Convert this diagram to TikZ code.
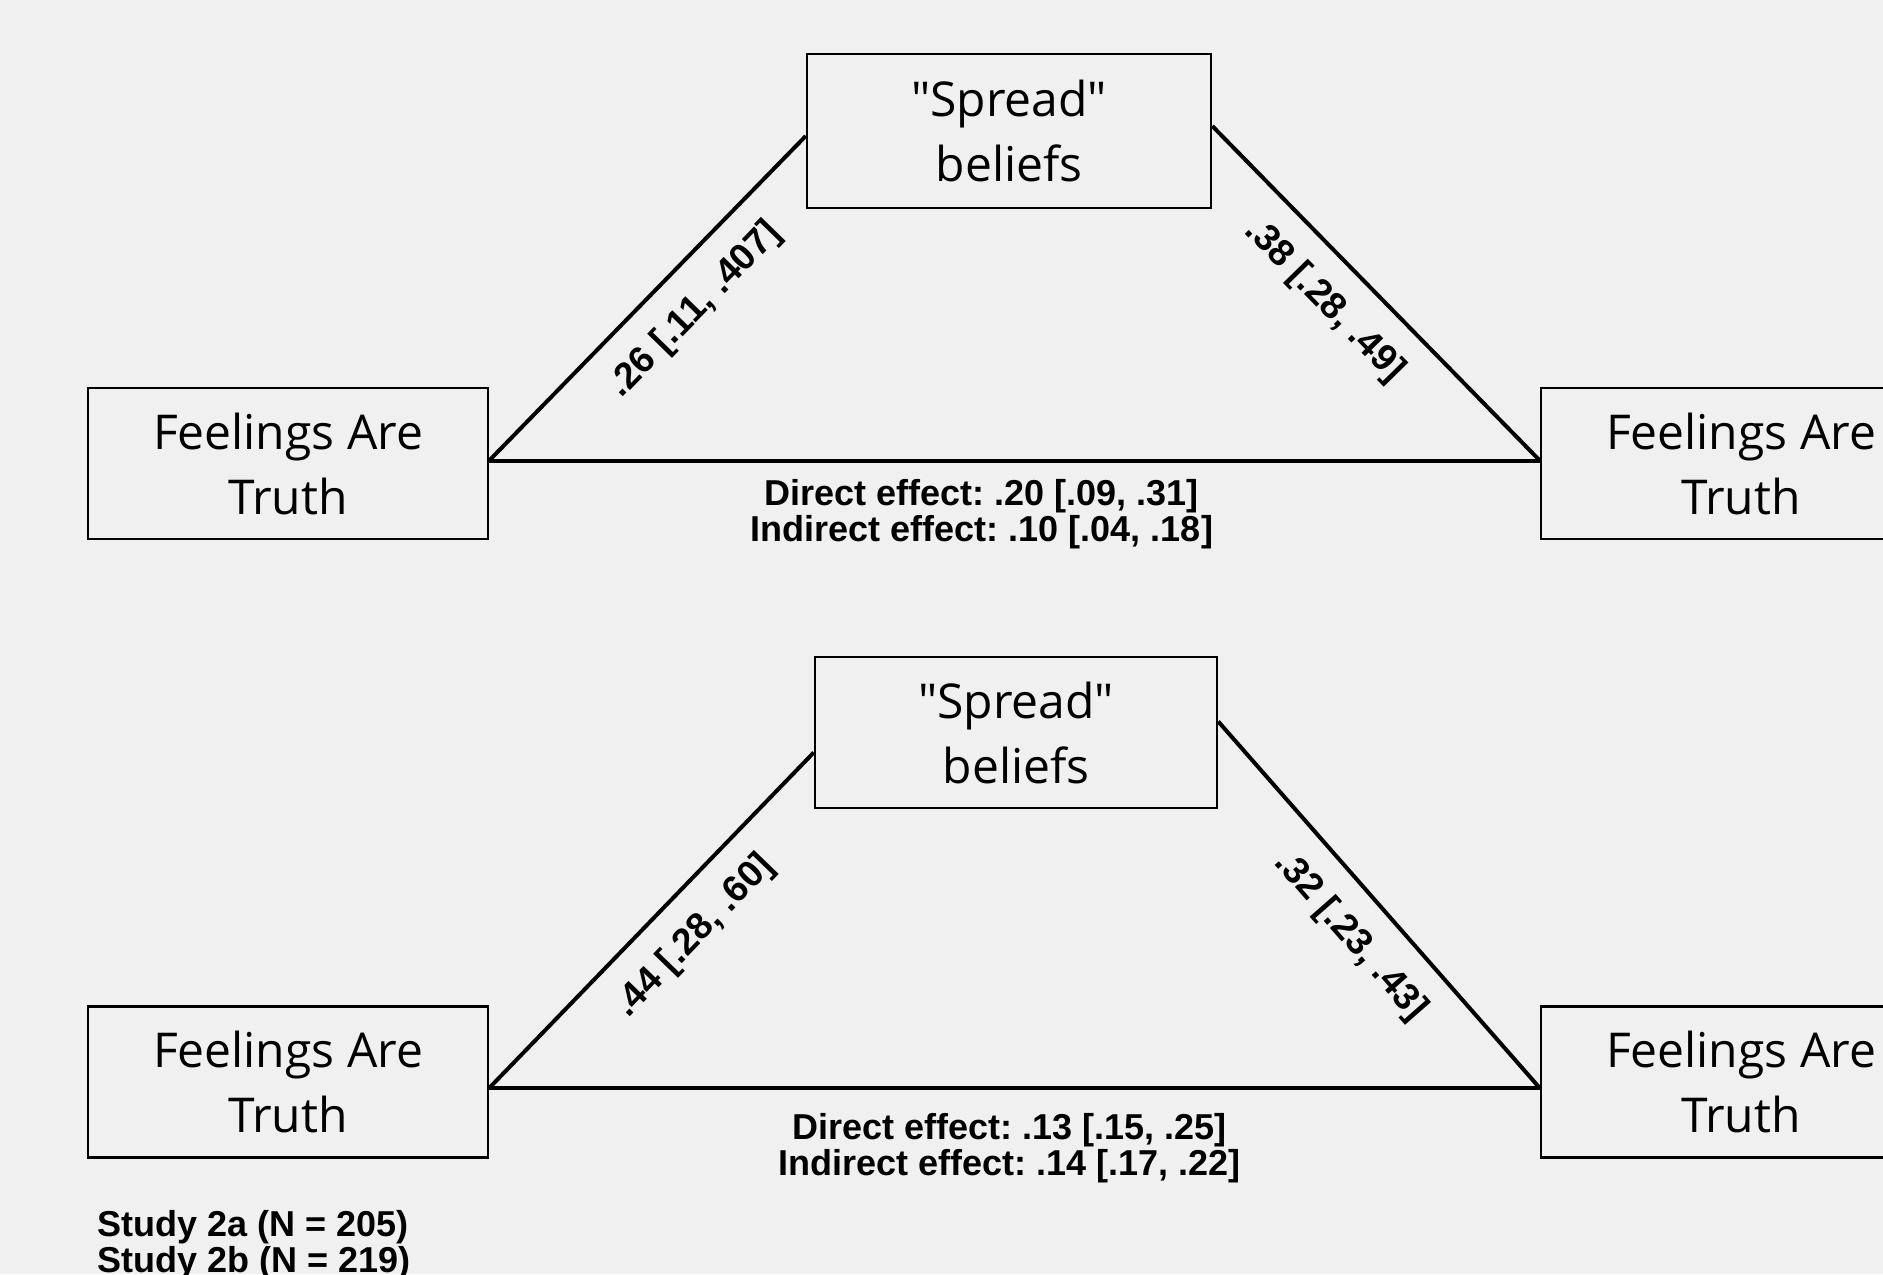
\documentclass[tikz,border=0pt]{standalone}
\usepackage{fontspec}
\setmainfont{Liberation Sans}
\newfontfamily\boxfont{Open Sans}[Ligatures=TeXOff]
\newfontfamily\labfont{Liberation Sans}[Ligatures=TeXOff]
\usetikzlibrary{calc}
\definecolor{bg}{HTML}{F0F0F0}
\frenchspacing
\begin{document}
\begin{tikzpicture}[x=0.5pt,y=-0.5pt,
  box/.style={draw, line width=1.25pt, fill=bg, align=center, inner sep=0,
    font=\boxfont\fontsize{24}{32.5}\selectfont},
  lab/.style={font=\labfont\bfseries\fontsize{18}{18}\selectfont, inner sep=0},
  slab/.style={font=\labfont\bfseries\fontsize{18.6}{19}\selectfont, inner sep=0, sloped},
  conn/.style={line width=2pt}]
\fill[bg] (0,0) rectangle (1883,1274);
\useasboundingbox (0,0) rectangle (1883,1274);
% top model
\node[box, minimum width=200pt, minimum height=75.5pt] (L) at (288,463.5) {Feelings Are\\Truth};
\node[box, minimum width=202pt, minimum height=77pt] (M) at (1009,131) {"Spread"\\beliefs};
\node[box, minimum width=200pt, minimum height=75.5pt] (R) at (1741,463.5) {Feelings Are\\Truth};
\coordinate (a1) at ($(L.east)+(0,-3)$);
\coordinate (a2) at ($(M.west)+(0,5)$);
\coordinate (a3) at ($(M.east)+(0,-5)$);
\coordinate (a4) at ($(R.west)+(0,-3)$);
\draw[conn] (a1) -- node[slab, pos=0.555, below=11.5pt] {.26 [.11, .407]} (a2);
\draw[conn] (a3) -- node[slab, pos=0.435, below=11.5pt] {.38 [.28, .49]} (a4);
\draw[conn] (a1) -- node[lab, pos=0.469, below=8.5pt, align=center] {Direct effect: .20 [.09, .31]\\Indirect effect: .10 [.04, .18]} (a4);
% bottom model
\node[box, minimum width=200pt, minimum height=75.5pt] (L2) at (288,1082) {Feelings Are\\Truth};
\node[box, minimum width=201pt, minimum height=75.5pt] (M2) at (1016,732.5) {"Spread"\\beliefs};
\node[box, minimum width=200pt, minimum height=75.5pt] (R2) at (1741,1082) {Feelings Are\\Truth};
\coordinate (b1) at ($(L2.east)+(0,6)$);
\coordinate (b2) at ($(M2.west)+(0,20)$);
\coordinate (b3) at ($(M2.east)+(0,-11)$);
\coordinate (b4) at ($(R2.west)+(0,6)$);
\draw[conn] (b1) -- node[slab, pos=0.54, below=11.5pt] {.44 [.28, .60]} (b2);
\draw[conn] (b3) -- node[slab, pos=0.51, below=11.5pt] {.32 [.23, .43]} (b4);
\draw[conn] (b1) -- node[lab, pos=0.495, below=11.75pt, align=center] {Direct effect: .13 [.15, .25]\\Indirect effect: .14 [.17, .22]} (b4);
% study note
\node[lab, anchor=north west, align=left] (note) at (97,1210) {Study 2a (N = 205)\\Study 2b (N = 219)};
\end{tikzpicture}
\end{document}
